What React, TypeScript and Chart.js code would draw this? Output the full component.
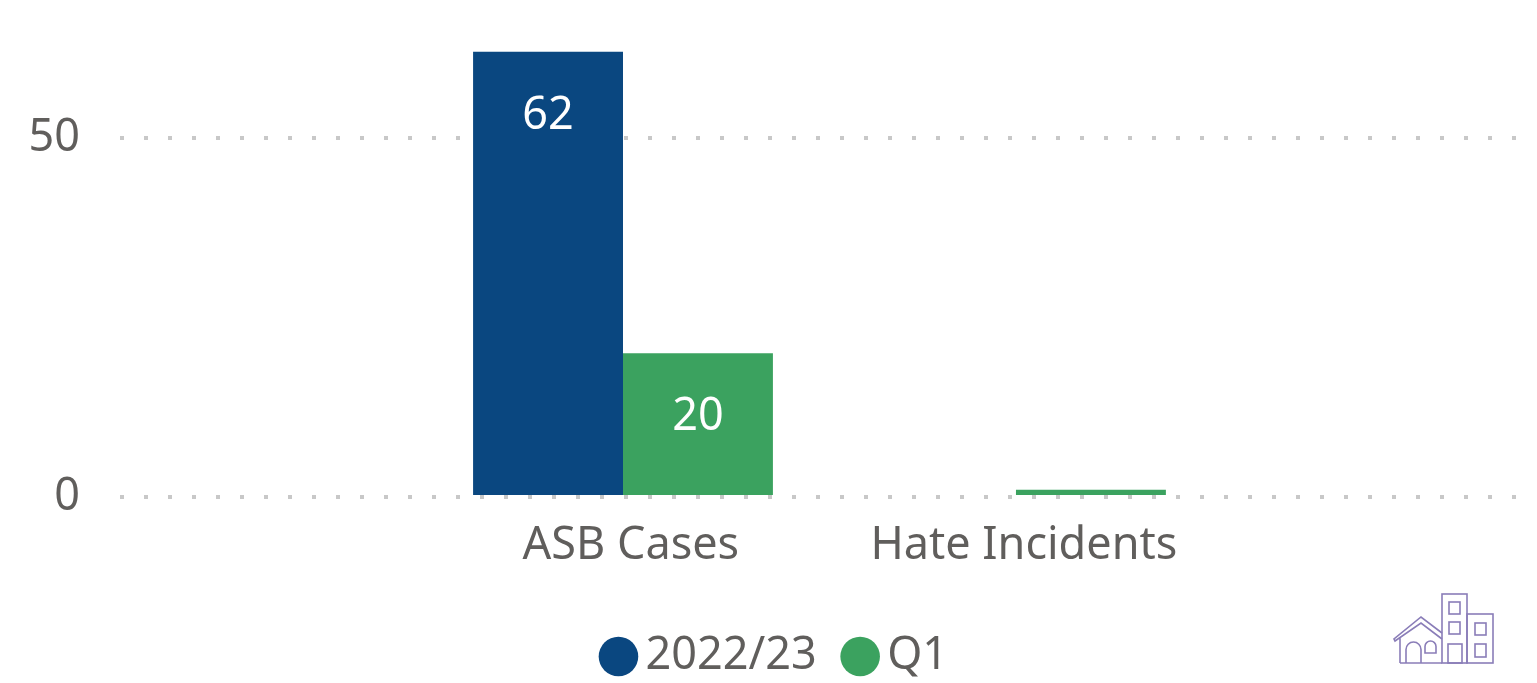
import React, { useEffect, useRef } from "react";
import { Chart, registerables } from "chart.js";

Chart.register(...registerables);

const categories = ["ASB Cases", "Hate Incidents"];
const categoryPositions = [0, 1];
const series2022 = [62, null];
const seriesQ1 = [20, 1];
const yTicks = [0, 50];
const FONT = "'Noto Sans', 'Open Sans', sans-serif";
const TEXT = "#605e5c";
const FONT_SIZE = 45;

const barLabels = {
  id: "barLabels",
  afterDatasetsDraw(chart: any) {
    const { ctx } = chart;
    ctx.save();
    ctx.fillStyle = "#ffffff";
    ctx.font = `${FONT_SIZE}px ${FONT}`;
    ctx.textAlign = "center";
    ctx.textBaseline = "middle";
    chart.data.datasets.forEach((ds: any, i: number) => {
      chart.getDatasetMeta(i).data.forEach((el: any, j: number) => {
        const v = ds.data[j]?.y;
        if (v == null || v < 5) return;
        ctx.fillText(String(v), el.x, el.y + 64);
      });
    });
    ctx.restore();
  },
};

const legendShift = {
  id: "legendShift",
  afterLayout(chart: any) {
    chart.legend.left += 12.5;
    chart.legend.right += 12.5;
  },
};

const icon = {
  id: "icon",
  afterDraw(chart: any) {
    const { ctx } = chart;
    ctx.save();
    ctx.strokeStyle = "#8a7db8";
    ctx.lineWidth = 1.6;
    ctx.translate(1380, 580);
    const rects = [
      [62, 14, 25, 69],
      [87, 34, 26, 49],
      [69, 22, 11, 12],
      [69, 42, 11, 12],
      [68, 64, 14, 19],
      [95, 43, 11, 12],
      [95, 64, 11, 13],
    ];
    rects.forEach((r) => ctx.strokeRect(r[0], r[1], r[2], r[3]));
    ctx.beginPath();
    ctx.moveTo(20, 83);
    ctx.lineTo(62, 83);
    ctx.moveTo(20, 83);
    ctx.lineTo(20, 58);
    ctx.moveTo(62, 59);
    ctx.lineTo(41, 43);
    ctx.lineTo(15, 61);
    ctx.lineTo(14, 59);
    ctx.lineTo(41, 37);
    ctx.lineTo(62, 53);
    ctx.moveTo(26, 83);
    ctx.lineTo(26, 69.5);
    ctx.arc(33.5, 69.5, 7.5, Math.PI, 0);
    ctx.lineTo(41, 83);
    ctx.moveTo(45, 73);
    ctx.lineTo(45, 66.5);
    ctx.arc(50.5, 66.5, 5.5, Math.PI, 0);
    ctx.lineTo(56, 73);
    ctx.closePath();
    ctx.stroke();
    ctx.restore();
  },
};

export default function App() {
  const ref = useRef<HTMLCanvasElement>(null);
  useEffect(() => {
    const chart = new Chart(ref.current!, {
      type: "bar",
      data: {
        datasets: [
          {
            label: "2022/23",
            data: categoryPositions.map((x, i) => ({ x, y: series2022[i] })) as any,
            backgroundColor: "#0a4780",
            borderWidth: 0,
            categoryPercentage: 0.763,
            barPercentage: 1,
          },
          {
            label: "Q1",
            data: categoryPositions.map((x, i) => ({ x, y: seriesQ1[i] })) as any,
            backgroundColor: "#3ba25f",
            borderWidth: 0,
            categoryPercentage: 0.763,
            barPercentage: 1,
          },
        ],
      },
      options: {
        animation: false,
        responsive: false,
        devicePixelRatio: 1,
        layout: { autoPadding: false, padding: { top: 0, right: 20, left: 20, bottom: -6 } },
        plugins: {
          tooltip: { enabled: false },
          legend: {
            position: "bottom",
            labels: {
              usePointStyle: true,
              pointStyle: "circle",
              boxHeight: 28,
              boxWidth: 9,
              padding: 39,
              color: TEXT,
              font: { family: FONT, size: FONT_SIZE },
            },
          },
        },
        scales: {
          x: {
            type: "linear",
            offset: false,
            min: -1.28,
            max: 2.275,
            bounds: "data",
            border: { display: false },
            grid: { display: false, drawTicks: false },
            afterBuildTicks(scale: any) {
              scale.ticks = categoryPositions.map((value) => ({ value: value + 0.02 }));
            },
            afterFit(scale: any) {
              scale.height = 98;
            },
            ticks: {
              color: TEXT,
              font: { family: FONT, size: FONT_SIZE },
              maxRotation: 0,
              autoSkip: false,
              padding: 22,
              callback: (v: any) => categories[Math.round(Number(v))],
            },
          },
          y: {
            type: "linear",
            min: 0,
            max: 69.2,
            bounds: "data",
            border: { display: false, dash: [4, 20] },
            grid: {
              color: "#c8c8c8",
              lineWidth: 4,
              tickLength: 0,
              drawTicks: false,
            },
            afterBuildTicks(scale: any) {
              scale.ticks = yTicks.map((value) => ({ value }));
            },
            afterFit(scale: any) {
              scale.width = 100;
              scale.paddingTop = 0;
              scale.paddingBottom = 0;
            },
            ticks: {
              color: TEXT,
              font: { family: FONT, size: FONT_SIZE },
              padding: 40,
            },
          },
        },
      },
      plugins: [barLabels, legendShift, icon],
    } as any);
    return () => chart.destroy();
  }, []);
  return (
    <canvas
      ref={ref}
      width={1537}
      height={683}
      style={{ position: "absolute", left: 0, top: 0, width: 1537, height: 683 }}
    />
  );
}
